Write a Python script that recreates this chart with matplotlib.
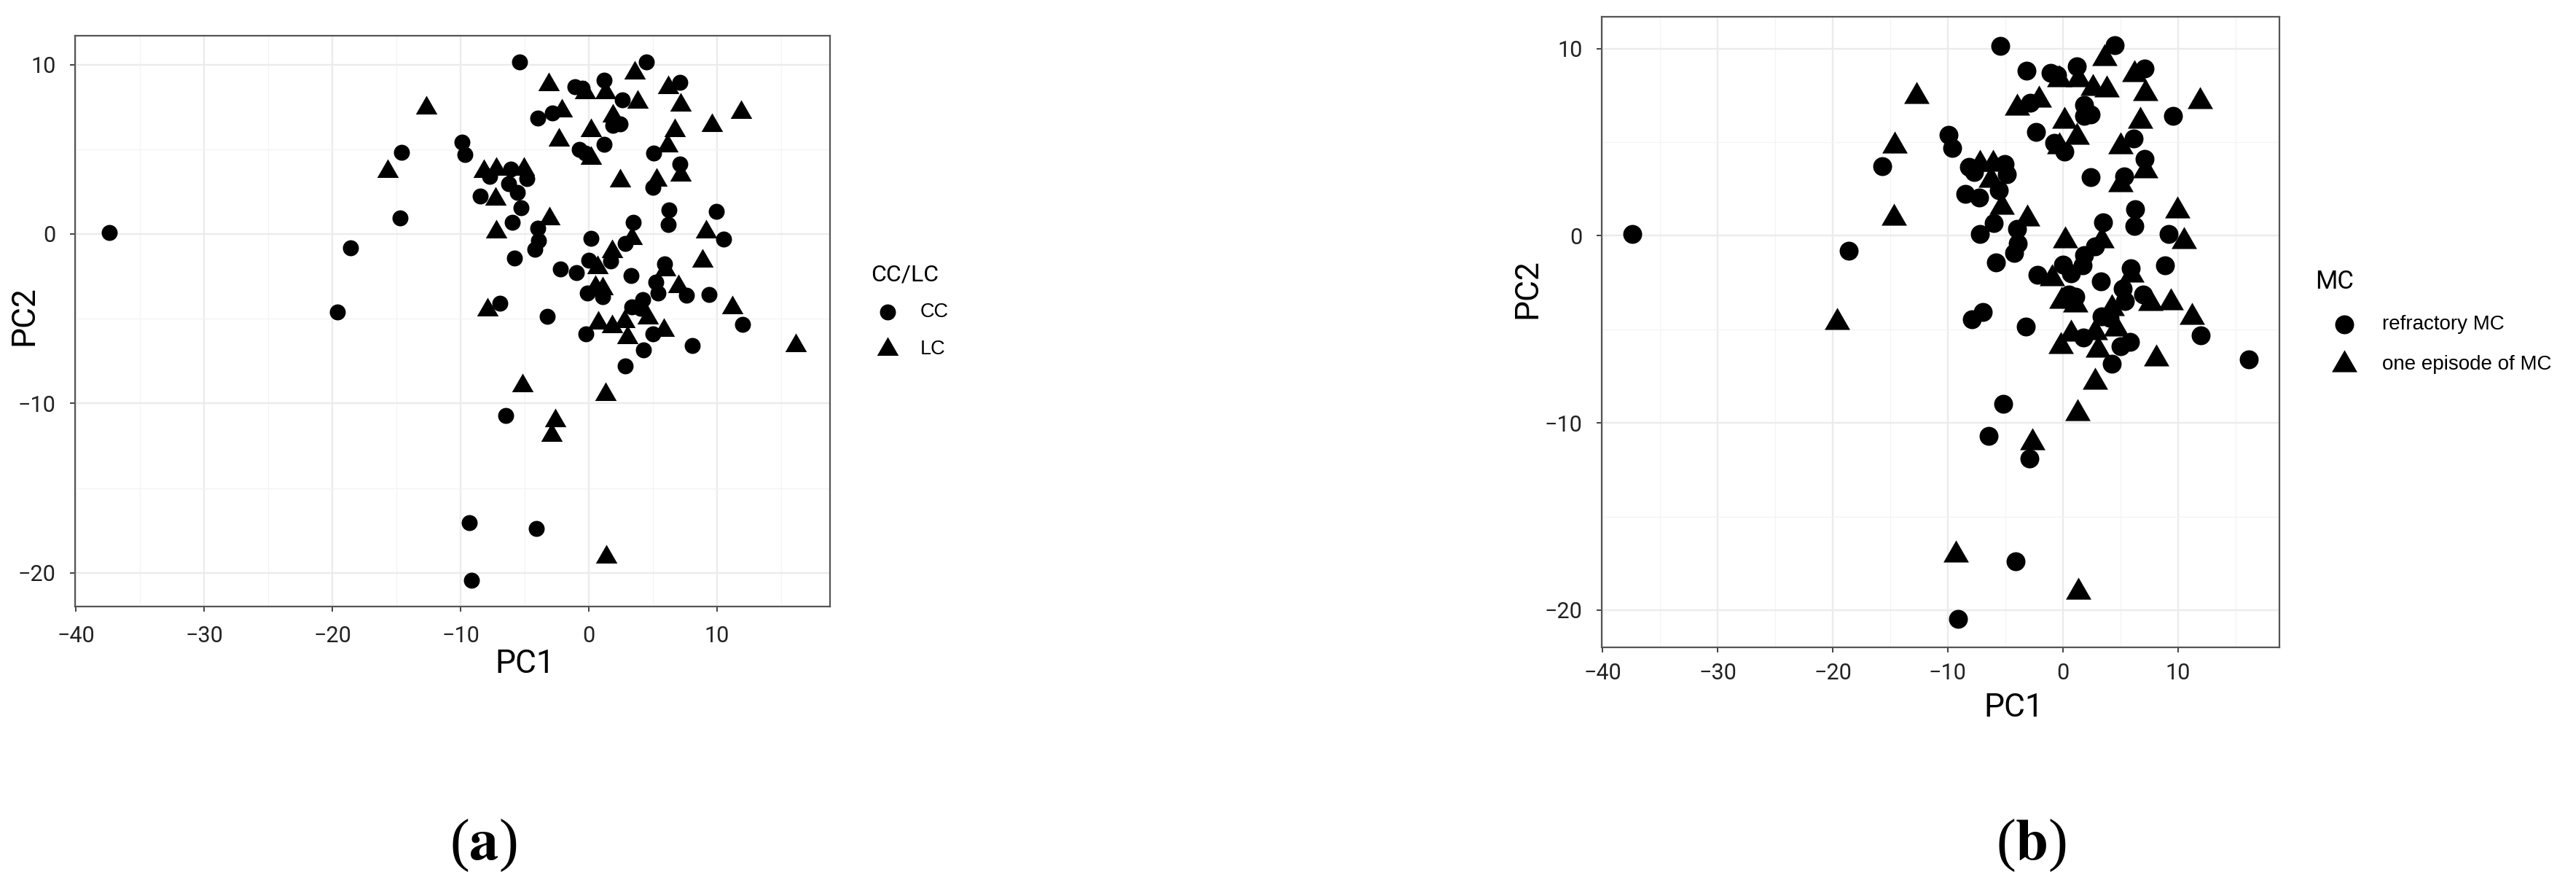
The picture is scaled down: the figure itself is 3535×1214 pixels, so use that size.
"""PCA score plots (PC1 vs PC2) for two groupings, side by side as panels (a) and (b)."""

import matplotlib

matplotlib.use("Agg")
import matplotlib.pyplot as plt
import numpy as np

plt.rcParams["mathtext.fontset"] = "stix"

# PCA scores (same samples in both panels)
pc1 = [-37.4, -18.6, -19.6, -14.6, -14.7, -15.7, -12.7, -5.4, -3.14, -1.06,
       -0.5, -0.3, 1.21, 1.34, 2.6, 3.6, 4.49, 3.8, -3.99, -2.86,
       -2.1, 1.88, 1.88, 2.44, -2.3, 0.16, -0.75, -0.27, 0.16, 1.2,
       2.44, -9.9, -9.64, -8.16, -7.2, -7.7, -6.08, -5.03, -4.85, -6.27,
       -5.55, -8.45, -7.26, -5.29, -5.98, -7.22, -3.09, -4.0, -3.9, -4.2,
       -5.8, 6.23, 7.14, 7.18, 11.9, 9.6, 6.74, 6.13, 5.04, 7.14,
       7.18, 5.32, 4.99, 6.27, 6.2, 9.93, 9.17, 10.55, 3.48, 3.39,
       0.19, 2.83, 1.83, 1.74, 0.02, 0.7, -0.95, -2.2, 3.3, 5.22,
       5.43, 5.9, 6.0, 8.9, 7.0, 7.62, 9.38, 11.2, 12.0, 16.15,
       8.1, 4.25, 2.83, -0.1, 0.5, 1.1, 1.1, 4.24, 3.39, 4.05,
       4.62, 5.85, 5.0, 3.04, 1.8, -0.2, 0.74, 2.8, -7.88, -6.93,
       -3.24, -5.17, 1.31, -6.46, -2.63, -2.92, -9.32, -4.1, 1.35, -9.12]

pc2 = [0.1, -0.8, -4.6, 4.8, 0.95, 3.7, 7.45, 10.15, 8.8, 8.7,
       8.6, 8.35, 9.06, 8.35, 7.9, 9.5, 10.17, 7.8, 6.84, 7.12,
       7.26, 6.98, 6.41, 6.48, 5.55, 6.12, 4.98, 4.76, 4.48, 5.27,
       3.12, 5.41, 4.69, 3.69, 3.83, 3.4, 3.84, 3.84, 3.27, 2.98,
       2.44, 2.22, 2.05, 1.55, 0.69, 0.11, 0.9, 0.35, -0.4, -0.9,
       -1.42, 8.63, 8.94, 7.63, 7.2, 6.41, 6.12, 5.19, 4.76, 4.12,
       3.48, 3.19, 2.76, 1.4, 0.54, 1.33, 0.11, -0.3, 0.7, -0.24,
       -0.24, -0.57, -1.04, -1.6, -1.56, -2.0, -2.27, -2.07, -2.45, -2.84,
       -3.5, -1.75, -2.1, -1.6, -3.12, -3.6, -3.57, -4.35, -5.33, -6.6,
       -6.58, -6.85, -7.8, -3.5, -3.15, -3.25, -3.7, -3.89, -4.32, -4.39,
       -4.97, -5.68, -5.89, -6.1, -5.45, -5.9, -5.25, -5.15, -4.46, -4.08,
       -4.86, -8.97, -9.47, -10.7, -11.04, -11.9, -17.04, -17.4, -19.05, -20.46]

# group of each sample: first letter = first level (circle), second = second level (triangle)
codes_a = ("CCCCCTTCTC" "CTCTCTCTCC" "TTCCTTCCTC" "TCCTTCCTCC" "CCTCCTTCCC" "CTCTTTTTCC"
           "TTCCCCTCCT" "CCTCCTCCCC" "CCTTTCCTCT" "CCCCTTCCCC" "TTCTTCTTTC" "CTTCTTCCTC")
codes_b = ("CCTTTCTCCC" "CTCTTTCTTC" "TCCCCTCTCT" "CCCCTCTCCT" "CCCTCCTCCC" "CTCTTCTCTC"
           "TCTCCTCTCT" "TCCCCCTCCC" "CCTCCTTTCC" "TCTTCCTTCC" "TCCTCTTTCC" "CCTCTCTCTC")

levels_a = ["CC", "LC"]
levels_b = ["refractory MC", "one episode of MC"]
title_a = "CC/LC"
title_b = "MC"

x_major = [-40, -30, -20, -10, 0, 10]
x_minor = [-35, -25, -15, -5, 5, 15]
y_major = [-20, -10, 0, 10]
y_minor = [-15, -5, 5]

# equilateral triangle centred on its centroid, like ggplot shape 17
TRIANGLE = [(0.0, 1.0), (-0.866, -0.5), (0.866, -0.5)]

TICK_FONT = "Roboto"
W, H = 3535, 1214


def _expanded(values, frac=0.05):
    lo, hi = min(values), max(values)
    pad = (hi - lo) * frac
    return lo - pad, hi + pad


def draw_panel(ax, codes, levels, title, circle_pt, tri_pt, legend_xy, legend_cfg, pc1_xy, pc2_xy):
    x = np.array(pc1)
    y = np.array(pc2)
    is_c = np.array([c == "C" for c in codes])

    h_c = ax.scatter(x[is_c], y[is_c], s=circle_pt ** 2, marker="o", color="black",
                     linewidths=0, zorder=3)
    h_t = ax.scatter(x[~is_c], y[~is_c], s=tri_pt ** 2, marker=TRIANGLE, color="black",
                     linewidths=0, zorder=3)

    ax.set_xlim(*_expanded(pc1))
    ax.set_ylim(*_expanded(pc2))
    ax.set_xticks(x_major)
    ax.set_xticks(x_minor, minor=True)
    ax.set_yticks(y_major)
    ax.set_yticks(y_minor, minor=True)
    ax.grid(which="major", color="#EBEBEB", linewidth=1.7)
    ax.grid(which="minor", color="#F3F3F3", linewidth=0.9)
    ax.set_axisbelow(True)

    for sp in ax.spines.values():
        sp.set_color("#555555")
        sp.set_linewidth(1.6)

    ax.tick_params(which="minor", length=0)
    ax.tick_params(which="major", direction="out", length=5, width=1.3, color="#333333",
                   labelcolor="#222222", labelsize=22)
    ax.tick_params(axis="x", pad=legend_cfg["xpad"])
    ax.tick_params(axis="y", pad=14)
    for lab in ax.get_xticklabels() + ax.get_yticklabels():
        lab.set_fontfamily(TICK_FONT)

    ax.set_xlabel("PC1", fontsize=32, family=TICK_FONT, va="top")
    ax.set_ylabel("PC2", fontsize=32, family=TICK_FONT)
    ax.xaxis.set_label_coords(*pc1_xy)
    ax.yaxis.set_label_coords(*pc2_xy)

    leg = ax.legend(
        [h_c, h_t], levels, title=title, loc="upper left",
        bbox_to_anchor=legend_xy, bbox_transform=ax.figure.transFigure,
        frameon=False, borderpad=0, borderaxespad=0, scatterpoints=1,
        handlelength=legend_cfg["handlelength"], handletextpad=legend_cfg["textpad"],
        labelspacing=legend_cfg["spacing"],
        prop={"family": "Liberation Sans", "size": legend_cfg["size"]},
        title_fontproperties={"family": TICK_FONT, "size": legend_cfg["title_size"],
                              "weight": "normal"},
        alignment="left",
    )
    return leg


fig = plt.figure(figsize=(W / 100, H / 100), dpi=100)

ax_a = fig.add_axes([103 / W, 1 - 832 / H, (1139 - 103) / W, (832 - 49) / H])
ax_b = fig.add_axes([2198 / W, 1 - 888 / H, (3128 - 2198) / W, (888 - 23) / H])

draw_panel(
    ax_a, codes_a, levels_a, title_a, circle_pt=15.8, tri_pt=24.6,
    legend_xy=(1195 / W, 1 - 362 / H),
    legend_cfg={"handlelength": 1.7, "textpad": 0.8, "spacing": 0.9, "size": 19.5,
                "title_size": 23, "xpad": 14},
    pc1_xy=(0.596, -0.074), pc2_xy=(-0.047, 0.51),
)
draw_panel(
    ax_b, codes_b, levels_b, title_b, circle_pt=18.7, tri_pt=29.0,
    legend_xy=(3177 / W, 1 - 370 / H),
    legend_cfg={"handlelength": 2.9, "textpad": 0.4, "spacing": 1.05, "size": 20,
                "title_size": 25, "xpad": 10},
    pc1_xy=(0.6075, -0.072), pc2_xy=(-0.087, 0.569),
)

fig.text(663 / W, 1 - 1160 / H, r"($\mathbf{a}$)", fontsize=58, family="Liberation Serif",
         ha="center", va="center")
fig.text(2787 / W, 1 - 1160 / H, r"($\mathbf{b}$)", fontsize=58, family="Liberation Serif",
         ha="center", va="center")

fig.savefig("out.png", dpi=100, facecolor="white")
